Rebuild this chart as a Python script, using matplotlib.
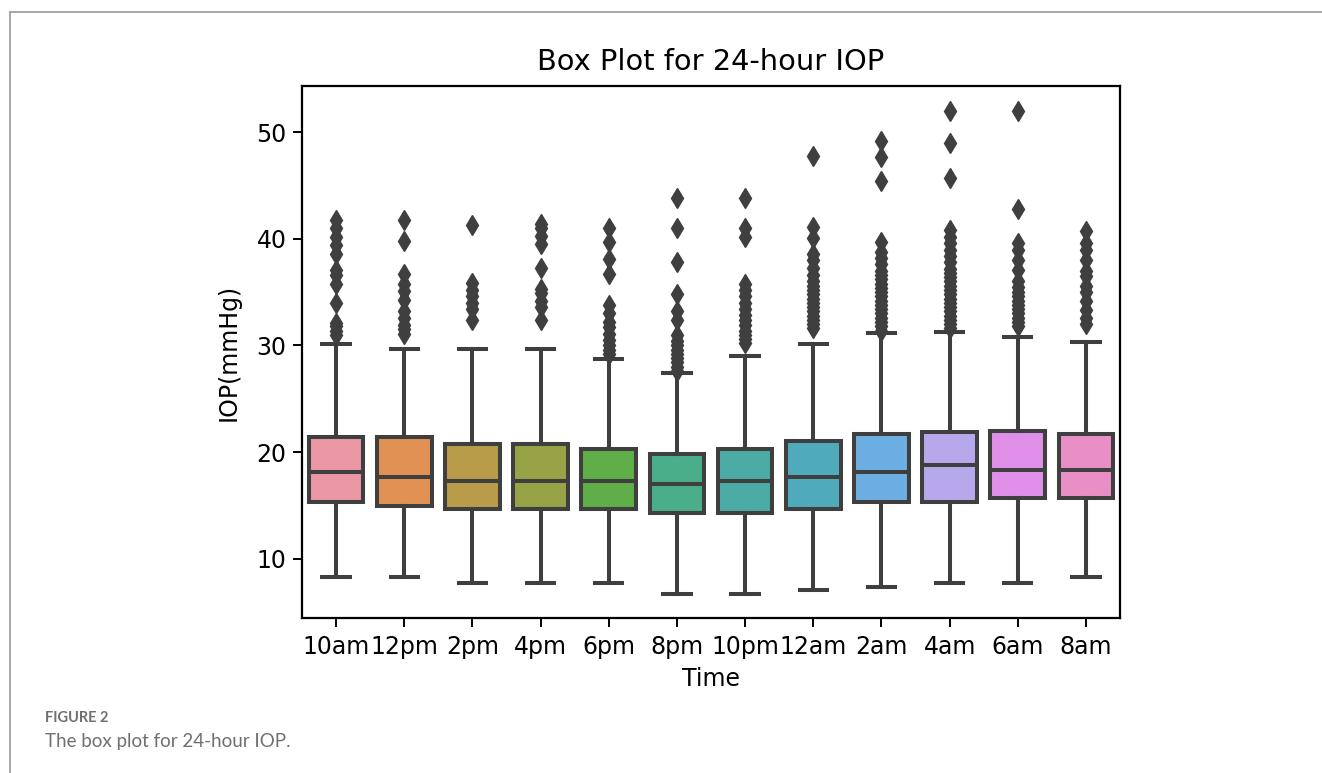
import matplotlib
matplotlib.use("Agg")
import matplotlib.pyplot as plt
from matplotlib.lines import Line2D
import seaborn as sns

# ---------------- data ----------------
times = ["10am", "12pm", "2pm", "4pm", "6pm", "8pm", "10pm", "12am", "2am", "4am", "6am", "8am"]
q1 = [15.3, 14.9, 14.7, 14.7, 14.7, 14.3, 14.3, 14.7, 15.3, 15.3, 15.7, 15.7]
median = [18.1, 17.7, 17.3, 17.3, 17.3, 17.0, 17.3, 17.7, 18.1, 18.8, 18.3, 18.3]
q3 = [21.4, 21.4, 20.8, 20.8, 20.3, 19.8, 20.3, 21.0, 21.7, 21.9, 22.0, 21.7]
whisker_low = [8.3, 8.3, 7.7, 7.7, 7.7, 6.7, 6.7, 7.1, 7.3, 7.7, 7.7, 8.3]
whisker_high = [30.1, 29.7, 29.7, 29.7, 28.7, 27.4, 29.0, 30.1, 31.2, 31.3, 30.8, 30.3]

fliers_10am = [31.0, 31.4, 31.8, 32.1, 34.0, 35.8, 36.6, 37.1, 38.6, 39.4, 40.2, 41.0, 41.8]
fliers_12pm = [31.1, 31.5, 31.9, 32.6, 33.2, 34.3, 35.1, 35.8, 36.7, 39.8, 41.8]
fliers_2pm = [32.4, 33.4, 34.0, 34.6, 35.2, 35.9, 41.3]
fliers_4pm = [32.4, 33.6, 34.2, 34.9, 35.3, 37.3, 39.5, 40.3, 41.0, 41.4]
fliers_6pm = [29.2, 29.6, 30.0, 30.5, 31.1, 31.7, 32.2, 33.0, 33.8, 36.7, 38.1, 39.7, 41.0]
fliers_8pm = [27.6, 28.0, 28.4, 28.8, 29.2, 29.6, 30.0, 30.4, 31.0, 32.4, 33.2, 34.8, 37.8, 41.0, 43.8]
fliers_10pm = [30.2, 30.6, 31.0, 31.4, 31.9, 32.4, 32.9, 33.4, 34.0, 34.6, 35.2, 35.8, 40.2, 41.0, 43.8]
fliers_12am = [31.6, 32.0, 32.4, 32.8, 33.2, 33.6, 34.0, 34.4, 34.8, 35.2, 35.6, 36.0,
               36.6, 37.3, 38.0, 38.6, 40.1, 41.1, 47.8]
fliers_2am = [31.4, 31.8, 32.2, 32.6, 33.0, 33.4, 33.8, 34.2, 34.6, 35.0, 35.4, 35.8,
              36.2, 36.6, 37.0, 37.6, 38.2, 38.8, 39.7, 45.4, 47.7, 49.2]
fliers_4am = [31.6, 32.0, 32.4, 32.8, 33.2, 33.6, 34.0, 34.4, 34.8, 35.2, 35.6, 36.0,
              36.4, 36.8, 37.2, 37.8, 38.4, 39.0, 39.6, 40.2, 40.8, 45.7, 49.0, 52.0]
fliers_6am = [31.8, 32.2, 32.6, 33.0, 33.4, 33.8, 34.2, 34.6, 35.0, 35.5, 36.0, 37.1,
              38.0, 39.0, 39.6, 42.8, 52.0]
fliers_8am = [32.0, 32.6, 33.3, 34.2, 35.0, 35.6, 36.5, 37.0, 38.0, 39.0, 39.6, 40.7]

fliers = [fliers_10am, fliers_12pm, fliers_2pm, fliers_4pm, fliers_6pm, fliers_8pm,
          fliers_10pm, fliers_12am, fliers_2am, fliers_4am, fliers_6am, fliers_8am]

# ---------------- figure ----------------
W, H = 1322, 773
fig = plt.figure(figsize=(W / 100, H / 100), dpi=100)
fig.patch.set_facecolor("white")

# page frame lines
fig.add_artist(Line2D([10 / W, 1.0], [1 - 11.5 / H, 1 - 11.5 / H], color="#a0a0a0", lw=1.3))
fig.add_artist(Line2D([10 / W, 10 / W], [0, 1 - 11.5 / H], color="#a0a0a0", lw=1.3))

left, right, top, bottom = 302, 1120, 86, 618
ax = fig.add_axes([left / W, 1 - bottom / H, (right - left) / W, (bottom - top) / H])

pal = sns.husl_palette(len(times), l=.7)
colors = [sns.desaturate(c, .75) for c in pal]

stats = []
for i in range(len(times)):
    stats.append(dict(med=median[i], q1=q1[i], q3=q3[i], whislo=whisker_low[i],
                      whishi=whisker_high[i], fliers=fliers[i], label=times[i]))

gray = "#3f3f3f"
lw = 2.9
bp = ax.bxp(stats, positions=range(len(times)), widths=0.8, patch_artist=True,
            showfliers=True,
            boxprops=dict(edgecolor=gray, linewidth=lw),
            whiskerprops=dict(color=gray, linewidth=lw),
            capprops=dict(color=gray, linewidth=lw),
            medianprops=dict(color=gray, linewidth=lw),
            flierprops=dict(marker="d", markerfacecolor=gray, markeredgecolor=gray,
                            markersize=10.5, linestyle="none"))
for patch, c in zip(bp["boxes"], colors):
    patch.set_facecolor(c)
for cap in bp["caps"]:
    x = cap.get_xdata()
    mid = (x[0] + x[1]) / 2
    cap.set_xdata([mid - 0.2, mid + 0.2])

ax.set_xlim(-0.5, len(times) - 0.5)
ax.set_ylim(4.43, 54.34)
ax.set_yticks([10, 20, 30, 40, 50])
ax.set_xticks(range(len(times)))
ax.set_xticklabels(times)
fs = 17
ax.tick_params(axis="both", labelsize=fs, width=1.4, length=6.2, color="black")
ax.tick_params(axis="x", pad=6)
ax.tick_params(axis="y", pad=5)
for s in ax.spines.values():
    s.set_linewidth(1.6)
ax.set_xlabel("Time", fontsize=fs, labelpad=6)
ax.set_ylabel("IOP(mmHg)", fontsize=fs, labelpad=11)
ax.set_title("Box Plot for 24-hour IOP", fontsize=20.8, pad=11.5)

fig.text(45 / W, 1 - 718 / H, "FIGURE 2", fontsize=10.5, color="#707070",
         fontweight="bold", family="Lato", va="center")
fig.text(45 / W, 1 - 741 / H, "The box plot for 24-hour IOP.", fontsize=13.5, color="#707070",
         family="Lato", va="center")

fig.savefig("out.png", dpi=100, facecolor="white")
